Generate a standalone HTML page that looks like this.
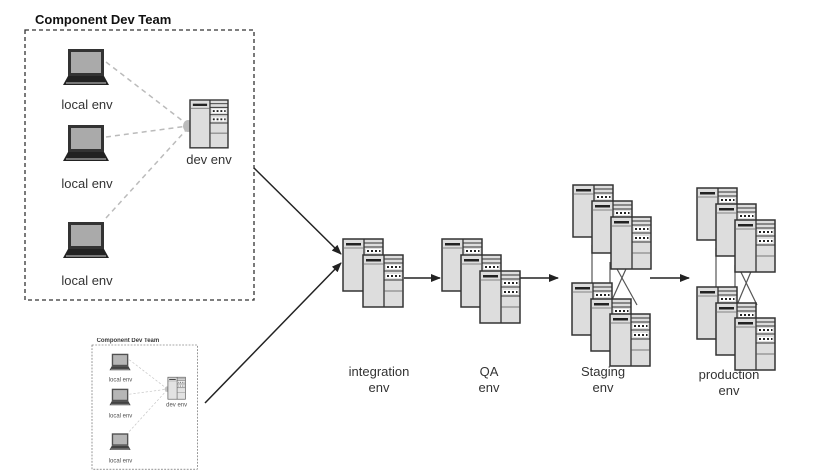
<!DOCTYPE html>
<html><head><meta charset="utf-8"><style>
html,body{margin:0;padding:0;background:#fff;}
svg{display:block;font-family:"Liberation Sans",sans-serif;}
</style></head><body>
<svg width="817" height="475" viewBox="0 0 817 475" xmlns="http://www.w3.org/2000/svg">
<defs>
<g id="srv">
<rect x="0" y="0" width="40" height="52" fill="#ddd" stroke="#333" stroke-width="1.5"/>
<line x1="21" y1="0" x2="21" y2="52" stroke="#333" stroke-width="1.3"/>
<rect x="3" y="4" width="15" height="2.5" fill="#222"/>
<line x1="0" y1="9" x2="21" y2="9" stroke="#666" stroke-width="0.8"/>
<line x1="21" y1="4" x2="40" y2="4" stroke="#333" stroke-width="1"/>
<line x1="21" y1="8" x2="40" y2="8" stroke="#333" stroke-width="1"/>
<rect x="23" y="10" width="15" height="4" fill="#fff"/>
<path d="M24 11h2v2h-2zM28 11h2v2h-2zM32 11h2v2h-2zM36 11h1.5v2h-1.5z" fill="#222"/>
<line x1="21" y1="16" x2="40" y2="16" stroke="#333" stroke-width="1"/>
<rect x="23" y="19" width="15" height="4" fill="#fff"/>
<path d="M24 20h2v2h-2zM28 20h2v2h-2zM32 20h2v2h-2zM36 20h1.5v2h-1.5z" fill="#222"/>
<line x1="21" y1="25" x2="40" y2="25" stroke="#333" stroke-width="1"/>
<line x1="21" y1="36" x2="40" y2="36" stroke="#555" stroke-width="0.8"/>
</g>
<g id="lap">
<rect x="4" y="0" width="36" height="27" fill="#333"/>
<rect x="7" y="3" width="30" height="21" fill="#aaa"/>
<path d="M4 27 L40 27 L45 36 L-1 36 Z" fill="#222"/>
<rect x="2" y="33" width="40" height="2" fill="#777"/>
</g>
<marker id="ah" markerWidth="10" markerHeight="8" refX="9" refY="4" orient="auto" markerUnits="userSpaceOnUse">
<path d="M0 0 L10 4 L0 8 Z" fill="#222"/>
</marker>
<g id="team">
<text x="35" y="24" font-size="13" font-weight="bold" fill="#111">Component  Dev Team</text>
<rect x="25" y="30" width="229" height="270" fill="none" stroke="#333" stroke-width="1.3" stroke-dasharray="4,3"/>
<g stroke="#bbb" stroke-width="1.5" stroke-dasharray="5,4" fill="none">
<line x1="106" y1="62" x2="188" y2="125"/>
<line x1="106" y1="137" x2="188" y2="126"/>
<line x1="106" y1="218" x2="188" y2="128"/>
</g>
<ellipse cx="188" cy="126" rx="5" ry="6" fill="#bbb"/>
<use href="#lap" x="64" y="49"/>
<use href="#lap" x="64" y="125"/>
<use href="#lap" x="64" y="222"/>
<text x="87" y="109" font-size="13" text-anchor="middle" fill="#333">local  env</text>
<text x="87" y="188" font-size="13" text-anchor="middle" fill="#333">local  env</text>
<text x="87" y="285" font-size="13" text-anchor="middle" fill="#333">local  env</text>
<use href="#srv" x="190" y="100" transform="translate(190,100) scale(0.95,0.92) translate(-190,-100)"/>
<text x="209" y="164" font-size="13" text-anchor="middle" fill="#333">dev  env</text>
</g>
</defs>

<use href="#team"/>
<g transform="translate(92,345) scale(0.46) translate(-25,-30)" opacity="0.85">
<use href="#team"/>
</g>

<g stroke="#222" stroke-width="1.5" fill="none">
<line x1="254" y1="168" x2="341" y2="254" marker-end="url(#ah)"/>
<line x1="205" y1="403" x2="341" y2="263" marker-end="url(#ah)"/>
<line x1="404" y1="278" x2="440" y2="278" marker-end="url(#ah)"/>
<line x1="520" y1="278" x2="558" y2="278" marker-end="url(#ah)"/>
<line x1="650" y1="278" x2="689" y2="278" marker-end="url(#ah)"/>
</g>

<!-- integration -->
<use href="#srv" x="343" y="239"/>
<use href="#srv" x="363" y="255"/>
<!-- QA -->
<use href="#srv" x="442" y="239"/>
<use href="#srv" x="461" y="255"/>
<use href="#srv" x="480" y="271"/>

<!-- staging -->
<g stroke="#555" stroke-width="1.2">
<line x1="592" y1="245" x2="592" y2="285"/>
<line x1="610" y1="262" x2="610" y2="300"/>
<line x1="612" y1="260" x2="637" y2="305"/>
<line x1="630" y1="260" x2="612" y2="300"/>
</g>
<use href="#srv" x="573" y="185"/>
<use href="#srv" x="592" y="201"/>
<use href="#srv" x="611" y="217"/>
<use href="#srv" x="572" y="283"/>
<use href="#srv" x="591" y="299"/>
<use href="#srv" x="610" y="314"/>
<!-- production -->
<g stroke="#555" stroke-width="1.2">
<line x1="716" y1="248" x2="716" y2="290"/>
<line x1="735" y1="265" x2="735" y2="305"/>
<line x1="736" y1="262" x2="757" y2="305"/>
<line x1="755" y1="262" x2="737" y2="305"/>
</g>
<use href="#srv" x="697" y="188"/>
<use href="#srv" x="716" y="204"/>
<use href="#srv" x="735" y="220"/>
<use href="#srv" x="697" y="287"/>
<use href="#srv" x="716" y="303"/>
<use href="#srv" x="735" y="318"/>

<g font-size="13" text-anchor="middle" fill="#333">
<text x="379" y="376">integration</text><text x="379" y="392">env</text>
<text x="489" y="376">QA</text><text x="489" y="392">env</text>
<text x="603" y="376">Staging</text><text x="603" y="392">env</text>
<text x="729" y="379">production</text><text x="729" y="395">env</text>
</g>
</svg>
</body></html>
